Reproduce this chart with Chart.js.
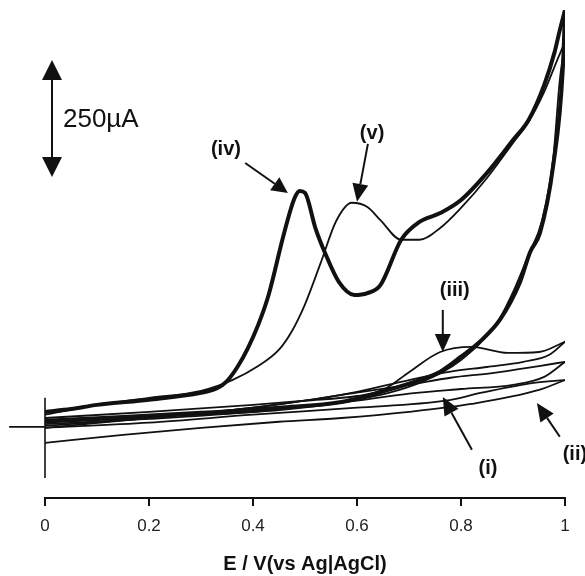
<!DOCTYPE html>
<html>
<head>
<meta charset="utf-8">
<script src="https://cdn.jsdelivr.net/npm/chart.js@4/dist/chart.umd.min.js"></script>
<style>
html,body{margin:0;padding:0;background:#fff;}
#wrap{width:585px;height:576px;position:relative;}
</style>
</head>
<body>
<div id="wrap"><canvas id="c" width="585" height="576"></canvas></div>
<script>
// Potential (V vs Ag|AgCl) and current (µA)
const xTickLabels = ['0','0.2','0.4','0.6','0.8','1'];

// (iv) – thick curve
const ivFwdE = [0,0.05,0.1,0.2,0.3,0.33,0.35,0.37,0.39,0.41,0.43,0.46,0.48,0.49,0.50,0.52,0.54,0.565,0.595,0.62,0.645,0.685,0.72,0.76,0.80,0.85,0.90,0.93,0.96,0.98,0.99,1.0];
const ivFwdI = [32,38,47,58,73,82,98,128,168,218,282,415,489,504,500,425,368,310,282,286,303,400,438,457,485,543,613,656,731,801,848,891];
const ivRevE = [1.0,0.996,0.977,0.952,0.933,0.913,0.875,0.84,0.8,0.76,0.72,0.66,0.57,0.45,0.3,0.15,0];
const ivRevI = [891,769,556,415,374,308,229,186,150,118,100,79,53,41,30,21,13];

// (v) – thin curve
const vFwdE = [0,0.1,0.2,0.3,0.36,0.41,0.45,0.475,0.50,0.53,0.56,0.59,0.62,0.645,0.685,0.72,0.76,0.80,0.85,0.9,0.93,0.96,0.985,1.0];
const vFwdI = [26,47,62,77,100,130,165,205,262,350,440,479,470,442,400,400,425,468,532,607,652,716,784,823];
const vRevE = [1.0,0.99,0.977,0.955,0.93,0.9,0.87,0.8,0.72,0.6,0.45,0.3,0.15,0];
const vRevI = [823,741,571,438,368,288,224,143,94,58,36,26,17,9];

// (iii)
const iiiFwdE = [0,0.2,0.4,0.5,0.6,0.65,0.7,0.76,0.82,0.89,0.95,1.0];
const iiiFwdI = [19,32,47,56,66,79,117,160,171,158,160,182];
const iiiRevE = [1.0,0.97,0.92,0.85,0.78,0.7,0.6,0.5,0.4,0.2,0];
const iiiRevI = [182,154,139,128,118,100,75,56,41,19,-2];

// (i)
const iFwdE = [0,0.2,0.4,0.6,0.7,0.8,0.9,0.96,1.0];
const iFwdI = [6,17,32,56,71,81,90,107,139];
const iRevE = [1.0,0.95,0.86,0.78,0.7,0.6,0.4,0.2,0];
const iRevI = [139,130,115,105,90,73,41,19,2];

// (ii)
const iiFwdE = [0,0.2,0.4,0.6,0.77,0.84,0.94,1.0];
const iiFwdI = [-2,9,26,41,56,73,94,100];
const iiRevE = [1.0,0.95,0.82,0.7,0.57,0.45,0.3,0.15,0];
const iiRevI = [100,79,49,32,19,11,-2,-17,-34];

function pts(E, I){ return E.map((e,k)=>({x:e, y:I[k]})); }
function ds(E, I, w){
  return {data: pts(E,I), showLine:true, borderColor:'#111', borderWidth:w,
          pointRadius:0, cubicInterpolationMode:'monotone', fill:false,
          borderCapStyle:'round', borderJoinStyle:'round'};
}

function arrow(ctx, x1, y1, x2, y2, len, half){
  const a = Math.atan2(y2-y1, x2-x1);
  const bx = x2 - len*Math.cos(a), by = y2 - len*Math.sin(a);
  ctx.beginPath(); ctx.moveTo(x1,y1); ctx.lineTo(bx,by); ctx.stroke();
  ctx.beginPath();
  ctx.moveTo(x2,y2);
  ctx.lineTo(bx + half*Math.sin(a), by - half*Math.cos(a));
  ctx.lineTo(bx - half*Math.sin(a), by + half*Math.cos(a));
  ctx.closePath(); ctx.fill();
}

const annot = {
  id:'annot',
  afterDatasetsDraw(chart){
    const {ctx, scales:{x, y}} = chart;
    const X = v => x.getPixelForValue(v), Y = v => y.getPixelForValue(v);
    ctx.save();
    ctx.strokeStyle = '#111'; ctx.fillStyle = '#111';
    // zero-current cross
    ctx.lineWidth = 1.6;
    ctx.beginPath(); ctx.moveTo(X(0), Y(62)); ctx.lineTo(X(0), Y(-109)); ctx.stroke();
    ctx.beginPath(); ctx.moveTo(X(-0.069), Y(0)); ctx.lineTo(X(0), Y(0)); ctx.stroke();
    // 250 µA scale bar
    ctx.lineWidth = 2;
    const sx = X(0.0135);
    const yTop = Y(784), yBot = Y(534);
    ctx.beginPath(); ctx.moveTo(sx, yTop+18); ctx.lineTo(sx, yBot-18); ctx.stroke();
    ctx.beginPath(); ctx.moveTo(sx, yTop); ctx.lineTo(sx-10, yTop+20); ctx.lineTo(sx+10, yTop+20); ctx.closePath(); ctx.fill();
    ctx.beginPath(); ctx.moveTo(sx, yBot); ctx.lineTo(sx-10, yBot-20); ctx.lineTo(sx+10, yBot-20); ctx.closePath(); ctx.fill();
    ctx.font = '26px "Liberation Sans", Arial, sans-serif';
    ctx.textAlign = 'left'; ctx.textBaseline = 'middle';
    ctx.fillText('250µA', X(0.0346), Y(656));
    // curve labels
    ctx.font = 'bold 20px "Liberation Sans", Arial, sans-serif';
    ctx.textAlign = 'center';
    ctx.fillText('(iv)', X(0.348), Y(592));
    ctx.fillText('(v)', X(0.629), Y(628));
    ctx.fillText('(iii)', X(0.788), Y(291));
    ctx.fillText('(i)', X(0.852), Y(-88));
    ctx.fillText('(ii)', X(1.019), Y(-60));
    ctx.lineWidth = 2;
    arrow(ctx, X(0.385), Y(564), X(0.467), Y(500), 16, 8);
    arrow(ctx, X(0.621), Y(605), X(0.60), Y(481), 18, 8);
    arrow(ctx, X(0.765), Y(250), X(0.765), Y(160), 18, 8);
    arrow(ctx, X(0.821), Y(-49), X(0.765), Y(64), 18, 8);
    arrow(ctx, X(0.99), Y(-21), X(0.946), Y(51), 18, 8);
    ctx.restore();
  }
};

new Chart(document.getElementById('c'), {
  type:'scatter',
  data:{ datasets:[
    ds(iiFwdE, iiFwdI, 1.8), ds(iiRevE, iiRevI, 1.8),
    ds(iFwdE, iFwdI, 1.8), ds(iRevE, iRevI, 1.8),
    ds(iiiFwdE, iiiFwdI, 1.8), ds(iiiRevE, iiiRevI, 1.8),
    ds(vFwdE, vFwdI, 1.8), ds(vRevE, vRevI, 1.8),
    ds(ivFwdE, ivFwdI, 4), ds(ivRevE, ivRevI, 4)
  ]},
  options:{
    responsive:false, animation:false, devicePixelRatio:1,
    layout:{ padding:{left:45, right:20, top:10, bottom:0} },
    plugins:{ legend:{display:false}, tooltip:{enabled:false} },
    scales:{
      x:{ type:'linear', min:0, max:1,
        afterFit(s){ s.height = 78; },
        border:{display:true, color:'#111', width:2},
        grid:{drawOnChartArea:false, drawTicks:true, tickLength:8, color:'#111', lineWidth:2},
        ticks:{ stepSize:0.2, color:'#222', padding:10, maxRotation:0,
          font:{family:'"Liberation Sans", Arial, sans-serif', size:17},
          callback:(v)=>{ const k = Math.round(v/0.2); return xTickLabels[k]; } },
        title:{ display:true, text:'E / V(vs Ag|AgCl)', color:'#111', padding:{top:0,bottom:0},
          font:{family:'"Liberation Sans", Arial, sans-serif', size:20, weight:'bold'} }
      },
      y:{ type:'linear', min:-152, max:891, display:false }
    }
  },
  plugins:[annot]
});
</script>
</body>
</html>
